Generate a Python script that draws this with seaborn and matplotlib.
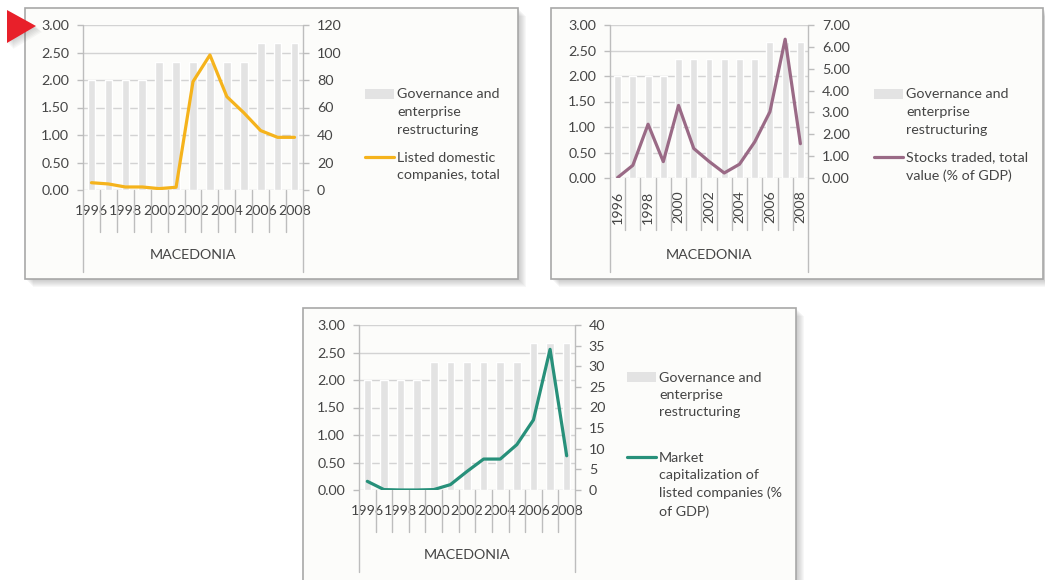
import numpy as np
import pandas as pd
import matplotlib
matplotlib.use("Agg")
import matplotlib.pyplot as plt
import matplotlib.transforms as mtrans
from matplotlib.patches import Rectangle, Polygon
from matplotlib.lines import Line2D
from matplotlib.ticker import FormatStrFormatter
import seaborn as sns

# Data
years = ["1996", "1997", "1998", "1999", "2000", "2001", "2002",
         "2003", "2004", "2005", "2006", "2007", "2008"]
governance = [2.00, 2.00, 2.00, 2.00, 2.33, 2.33, 2.33,
              2.33, 2.33, 2.33, 2.67, 2.67, 2.67]
listed_companies = [5.3, 4.4, 2.2, 2.2, 1.0, 2.0, 78.8,
                    98.2, 67.9, 56.2, 43.2, 38.3, 38.3]
stocks_traded = [0.02, 0.58, 2.46, 0.75, 3.32, 1.35, 0.76,
                 0.23, 0.63, 1.65, 3.03, 6.35, 1.57]
market_cap = [2.1, 0.1, 0.0, 0.0, 0.1, 1.3, 4.5,
              7.5, 7.5, 11.0, 17.0, 34.1, 8.3]
country = "MACEDONIA"
bar_label = "Governance and\nenterprise\nrestructuring"

sns.set_theme(style="white")
plt.rcParams['font.family'] = ['Lato', 'DejaVu Sans']

W, H = 1045, 580
BAR = "#e3e3e3"
GRID = "#d3d3d3"
AXC = "#bdbdbd"
TXT = "#454545"

fig = plt.figure(figsize=(W / 100, H / 100), dpi=100)
fig.patch.set_facecolor("white")

# background layer in pixel coordinates
bg = fig.add_axes([0, 0, 1, 1], zorder=-10)
bg.set_xlim(0, W)
bg.set_ylim(H, 0)
bg.axis("off")


def frame(x0, y0, x1, y1):
    for k in range(1, 9):
        bg.add_patch(Rectangle((x0 + k, y0 + k), x1 - x0, y1 - y0,
                               facecolor="#707070", edgecolor="none",
                               alpha=0.05))
    bg.add_patch(Rectangle((x0, y0), x1 - x0, y1 - y0, facecolor="#fcfcfa",
                           edgecolor="#a8a8a8", lw=1.2))


frame(25, 8, 518, 279)
frame(551, 8, 1043, 279)
frame(303, 308, 796, 600)

# red marker triangle
for k in range(1, 7):
    bg.add_patch(Polygon([(7 + k, 10 + k), (7 + k, 43 + k), (36 + k, 26 + k)],
                         facecolor="#606060", alpha=0.05, edgecolor="none"))
bg.add_patch(Polygon([(7, 10), (7, 43), (36, 26)], facecolor="#e8202a",
                     edgecolor="none"))


def panel(box, values, color, rticks, rfmt, label, leg, rotate, below):
    l, t, r, b = box
    ax = fig.add_axes([l / W, 1 - b / H, (r - l) / W, (b - t) / H])
    ax.patch.set_alpha(0)
    df = pd.DataFrame({"year": years, "gov": governance, "val": values,
                       "pos": range(len(years))})
    sns.barplot(data=df, x="year", y="gov", color=BAR, saturation=1,
                width=0.45, ax=ax)
    ax2 = ax.twinx()
    sns.lineplot(data=df, x="pos", y="val", color=color, lw=2.3, ax=ax2)
    ax.set_xlim(-0.5, len(years) - 0.5)
    ax.set_ylim(0, 3)
    ax.set_yticks(np.arange(0, 3.01, 0.5))
    ax.yaxis.set_major_formatter(FormatStrFormatter("%.2f"))
    ax2.set_ylim(rticks[0], rticks[-1])
    ax2.set_yticks(rticks)
    ax2.yaxis.set_major_formatter(FormatStrFormatter(rfmt))
    ax.set_xlabel("")
    ax.set_ylabel("")
    ax2.set_xlabel("")
    ax2.set_ylabel("")
    ax.set_axisbelow(True)
    ax.yaxis.grid(True, color=GRID, lw=1)
    for a in (ax, ax2):
        for s in a.spines.values():
            s.set_visible(False)
    ax.tick_params(axis="y", left=True, direction="out", length=4, width=1,
                   color=AXC, pad=6, labelsize=10.3, labelcolor=TXT)
    ax2.tick_params(axis="y", right=True, direction="out", length=4, width=1,
                    color=AXC, pad=6, labelsize=10.3, labelcolor=TXT)
    ax.set_xticks(range(0, len(years), 2))
    ax.set_xticklabels(years[::2], rotation=90 if rotate else 0)
    ax.tick_params(axis="x", bottom=False, length=0,
                   pad=below[3], labelsize=10.3, labelcolor=TXT)

    inner, outer, lab = below[:3]
    tr = mtrans.blended_transform_factory(ax.transData, ax.transAxes)
    n = len(years)
    for i in range(1, n):
        ax.plot([i - 0.5, i - 0.5], [0, inner], transform=tr, color=AXC,
                lw=1, clip_on=False)
    for xe in (-0.5, n - 0.5):
        ax.plot([xe, xe], [1, outer], transform=tr, color=AXC, lw=1,
                clip_on=False)
    ax.text(0.5, lab, country, transform=ax.transAxes, ha="center",
            va="center", fontsize=10.3, color=TXT)

    # legend
    x0, y_bar, y_line = leg
    bg.add_patch(Rectangle((x0, y_bar - 5), 29, 10, facecolor=BAR,
                           edgecolor="none"))
    bg.text(x0 + 32, y_bar - 5.5, bar_label, ha="left", va="top",
            fontsize=10.3, color=TXT, linespacing=1.55)
    bg.add_line(Line2D([x0, x0 + 29], [y_line, y_line], color=color, lw=2.3))
    bg.text(x0 + 32, y_line - 5.5, label, ha="left", va="top",
            fontsize=10.3, color=TXT, linespacing=1.55)


panel((83, 25, 303, 190), listed_companies, "#f5b31c",
      np.arange(0, 121, 20), "%d", "Listed domestic\ncompanies, total",
      (365, 94, 157), False, (-0.255, -0.497, -0.394, 11))
panel((610, 25, 808, 178), stocks_traded, "#9a6a86",
      np.arange(0, 7.01, 1), "%.2f", "Stocks traded, total\nvalue (% of GDP)",
      (874, 94, 157), True, (-0.34, -0.614, -0.503, 9))
panel((359, 325, 575, 490), market_cap, "#27907a",
      np.arange(0, 41, 5), "%d",
      "Market\ncapitalization of\nlisted companies (%\nof GDP)",
      (627, 377, 457), False, (-0.255, -0.497, -0.394, 11))

fig.savefig("out.png", dpi=100)
